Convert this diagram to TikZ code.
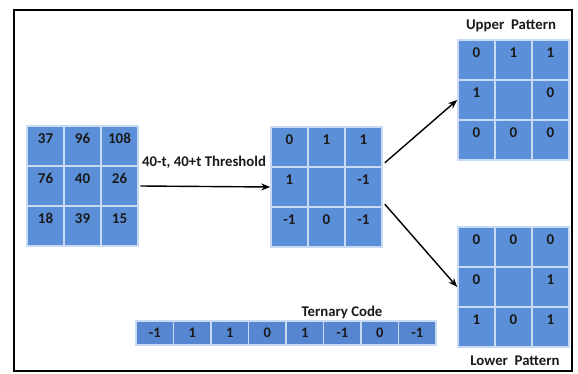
\documentclass[tikz,border=0pt]{standalone}
\usepackage{fontspec}
\setmainfont{Carlito}
\usetikzlibrary{arrows.meta}
\definecolor{cellblue}{HTML}{5B8FD8}
\definecolor{barblue}{HTML}{5586CF}
\definecolor{gapcol}{HTML}{C9DBF3}
\definecolor{txt}{HTML}{1A1A1A}
\tikzset{
  cell/.style={rectangle, fill=cellblue, draw=gapcol, line width=1.6pt,
    minimum width=37pt, minimum height=40pt, inner xsep=2pt, inner ysep=4pt,
    text height=13.5pt, text depth=18.5pt, text=txt,
    font=\fontsize{15}{16}\selectfont\bfseries},
  barcell/.style={rectangle, fill=barblue, draw=gapcol, line width=1.6pt,
    minimum width=37.5pt, minimum height=24pt, inner sep=0pt, text=txt,
    font=\fontsize{14.5}{15}\selectfont\bfseries},
  lbl/.style={text=txt, font=\fontsize{14.8}{16}\selectfont\bfseries, inner sep=1pt},
  arr/.style={-{Stealth[length=9pt,width=7pt]}, line width=1.4pt, black},
  frame/.style={draw=black, line width=2pt}
}
\newcommand{\mygrid}[4]{% name, x0, y0, values
  \foreach \v [count=\k from 0] in {#4} {
    \pgfmathtruncatemacro{\r}{int(\k/3)+1}
    \pgfmathtruncatemacro{\c}{mod(\k,3)+1}
    \node[cell] (#1-\r-\c) at ({#2+37*(\c-0.5)},{#3+40*(\r-0.5)}) {\v};
  }
}
\begin{document}
\begin{tikzpicture}[x=1pt,y=-1pt]
\useasboundingbox (0,0) rectangle (578,374);
\draw[frame] (14,10) rectangle (572,371);

\mygrid{L}{27}{126}{37,96,108,76,40,26,18,39,15}
\mygrid{M}{271}{127}{0,1,1,1,,-1,-1,0,-1}
\mygrid{U}{458}{40}{0,1,1,1,,0,0,0,0}
\mygrid{W}{458}{227}{0,0,0,0,,1,1,0,1}

\foreach \v [count=\k] in {-1,1,1,0,1,-1,0,-1} {
  \node[barcell] (T-\k) at ({136+37.5*(\k-0.5)},333) {\v};
}

\node[lbl] (up) at (511,26) {Upper\ \ Pattern};
\node[lbl] (lo) at (515,361) {Lower\ \ Pattern};
\node[lbl] (tc) at (342,312) {Ternary Code};
\node[lbl] (th) at (204,162) {40-t, 40+t Threshold};

\draw[arr] ([xshift=1.5pt]L-2-3.east) -- (M-2-1.west);
\draw[arr] ([xshift=2pt,yshift=5pt]M-1-3.south east) -- (U-2-1.west);
\draw[arr] ([xshift=2pt,yshift=2pt]M-3-3.north east) -- (W-2-1.west);
\end{tikzpicture}
\end{document}
